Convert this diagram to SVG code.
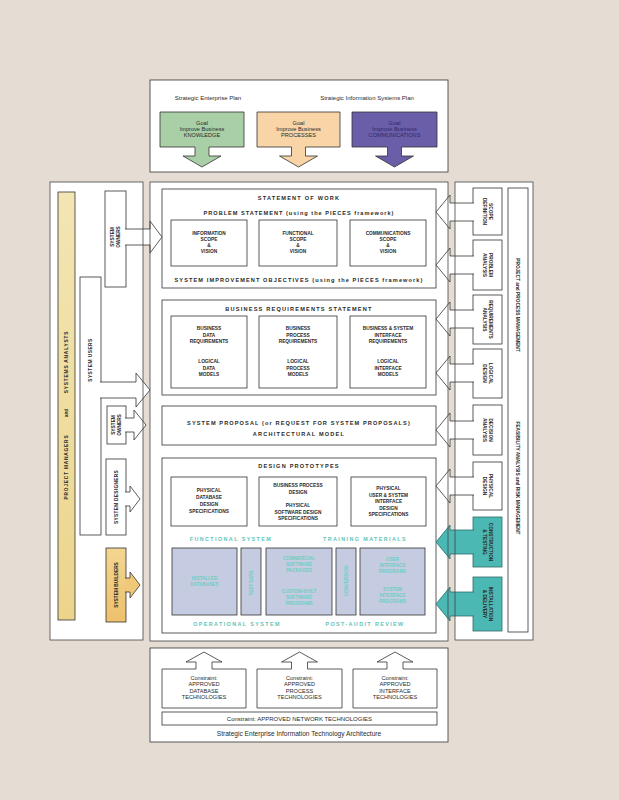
<svg xmlns="http://www.w3.org/2000/svg" width="619" height="800" viewBox="0 0 619 800">
<style>
text{font-family:"Liberation Sans",Arial,Helvetica,sans-serif;fill:#2a2a2a;text-anchor:middle}
.box{fill:#fff;stroke:#333;stroke-width:.8}
.frame{fill:none;stroke:#444;stroke-width:.8}
.arw{fill:#fff;stroke:#333;stroke-width:.8}
.h{font-weight:bold;font-size:5.6px;letter-spacing:1.2px}
.t{font-weight:bold;font-size:4.8px}
.r{font-size:6px}
.s{font-size:5.6px}
.tl{font-weight:bold;font-size:5.4px;letter-spacing:1.4px;fill:#5ec4bb}
.bb{fill:#c5cbe0;stroke:#333;stroke-width:.8}
.bt{font-weight:bold;font-size:4.6px;fill:#6ccfc4}
.teal{fill:#4bb8b4;stroke:#2c6d6b;stroke-width:.8}
</style>
<defs>
<linearGradient id="yel" x1="0" y1="0" x2="0" y2="1">
<stop offset="0" stop-color="#f3e6b4"/><stop offset="1" stop-color="#ecd48c"/>
</linearGradient>
<linearGradient id="org" x1="0" y1="0" x2="0" y2="1">
<stop offset="0" stop-color="#f4d68f"/><stop offset="1" stop-color="#eec06c"/>
</linearGradient>
</defs>
<rect x="0" y="0" width="619" height="800" fill="#e5ddd3"/>

<!-- top planning section -->
<g id="strategic-plans">
<rect class="box" x="150" y="80" width="298" height="92"/>
<text class="r" x="208" y="100">Strategic Enterprise Plan</text>
<text class="r" x="367" y="100">Strategic Information Systems Plan</text>
</g>
<g id="goal-knowledge">
<polygon points="160,112 244,112 244,147 209,147 209,156 221,156 202,167 183,156 195,156 195,147 160,147" fill="#a9cfa6" stroke="#333" stroke-width=".8"/>
<text class="s" x="202" y="124.5">Goal</text>
<text class="s" x="202" y="130.5">Improve Business</text>
<text class="s" x="202" y="137">KNOWLEDGE</text>
</g>
<g id="goal-processes">
<polygon points="257,112 340,112 340,147 305.5,147 305.5,156 317.5,156 298.5,167 279.5,156 291.5,156 291.5,147 257,147" fill="#f8d4a6" stroke="#333" stroke-width=".8"/>
<text class="s" x="298.5" y="124.5">Goal</text>
<text class="s" x="298.5" y="130.5">Improve Business</text>
<text class="s" x="298.5" y="137">PROCESSES</text>
</g>
<g id="goal-communications">
<polygon points="352,112 437,112 437,147 401.5,147 401.5,156 413.5,156 394.5,167 375.5,156 387.5,156 387.5,147 352,147" fill="#6a5ea8" stroke="#333" stroke-width=".8"/>
<text class="s" x="394.5" y="124.5" style="fill:#2e2868">Goal</text>
<text class="s" x="394.5" y="130.5" style="fill:#2e2868">Improve Business</text>
<text class="s" x="394.5" y="137" style="fill:#2e2868">COMMUNICATIONS</text>
</g>

<!-- panels -->
<g id="left-panel"><rect x="50" y="182" width="93" height="458" fill="#fff"/></g>
<g id="center-panel"><rect x="150" y="182" width="298" height="459" fill="#fff"/></g>
<g id="right-panel"><rect x="455" y="182" width="78" height="458" fill="#fff"/></g>

<!-- statement of work -->
<g id="statement-of-work">
<rect class="box" x="162" y="189" width="274" height="99"/>
<text class="h" x="299" y="200">STATEMENT OF WORK</text>
<text class="h" x="299" y="215" style="letter-spacing:1px">PROBLEM STATEMENT (using the PIECES framework)</text>
<text class="h" x="299" y="282" style="letter-spacing:1.1px">SYSTEM IMPROVEMENT OBJECTIVES (using the PIECES framework)</text>
</g>
<g id="information-scope">
<rect class="box" x="171" y="220" width="76" height="46"/>
<text class="t" x="209" y="235">INFORMATION</text>
<text class="t" x="209" y="241">SCOPE</text>
<text class="t" x="209" y="247">&amp;</text>
<text class="t" x="209" y="253">VISION</text>
</g>
<g id="functional-scope">
<rect class="box" x="259" y="220" width="78" height="46"/>
<text class="t" x="298" y="235">FUNCTIONAL</text>
<text class="t" x="298" y="241">SCOPE</text>
<text class="t" x="298" y="247">&amp;</text>
<text class="t" x="298" y="253">VISION</text>
</g>
<g id="communications-scope">
<rect class="box" x="350" y="220" width="76" height="46"/>
<text class="t" x="388" y="235">COMMUNICATIONS</text>
<text class="t" x="388" y="241">SCOPE</text>
<text class="t" x="388" y="247">&amp;</text>
<text class="t" x="388" y="253">VISION</text>
</g>

<!-- business requirements -->
<g id="business-requirements">
<rect class="box" x="162" y="300" width="274" height="95"/>
<text class="h" x="299" y="311">BUSINESS REQUIREMENTS STATEMENT</text>
</g>
<g id="data-requirements">
<rect class="box" x="171" y="316" width="76" height="72"/>
<text class="t" x="209" y="330">BUSINESS</text>
<text class="t" x="209" y="336.5">DATA</text>
<text class="t" x="209" y="343">REQUIREMENTS</text>
<text class="t" x="209" y="363">LOGICAL</text>
<text class="t" x="209" y="369.5">DATA</text>
<text class="t" x="209" y="376">MODELS</text>
</g>
<g id="process-requirements">
<rect class="box" x="259" y="316" width="78" height="72"/>
<text class="t" x="298" y="330">BUSINESS</text>
<text class="t" x="298" y="336.5">PROCESS</text>
<text class="t" x="298" y="343">REQUIREMENTS</text>
<text class="t" x="298" y="363">LOGICAL</text>
<text class="t" x="298" y="369.5">PROCESS</text>
<text class="t" x="298" y="376">MODELS</text>
</g>
<g id="interface-requirements">
<rect class="box" x="350" y="316" width="76" height="72"/>
<text class="t" x="388" y="330">BUSINESS &amp; SYSTEM</text>
<text class="t" x="388" y="336.5">INTERFACE</text>
<text class="t" x="388" y="343">REQUIREMENTS</text>
<text class="t" x="388" y="363">LOGICAL</text>
<text class="t" x="388" y="369.5">INTERFACE</text>
<text class="t" x="388" y="376">MODELS</text>
</g>

<!-- system proposal -->
<g id="system-proposal">
<rect class="box" x="162" y="406" width="274" height="39"/>
<text class="h" x="299" y="425" style="letter-spacing:1.1px">SYSTEM PROPOSAL  (or  REQUEST FOR SYSTEM PROPOSALS)</text>
<text class="h" x="299" y="436">ARCHITECTURAL MODEL</text>
</g>

<!-- design prototypes -->
<g id="design-prototypes">
<rect class="box" x="162" y="458" width="274" height="175"/>
<text class="h" x="299" y="468">DESIGN PROTOTYPES</text>
<text class="tl" x="231" y="541">FUNCTIONAL SYSTEM</text>
<text class="tl" x="365" y="541">TRAINING MATERIALS</text>
<text class="tl" x="237" y="626">OPERATIONAL SYSTEM</text>
<text class="tl" x="365" y="626">POST-AUDIT REVIEW</text>
</g>
<g id="database-design">
<rect class="box" x="171" y="477" width="76" height="49"/>
<text class="t" x="209" y="492">PHYSICAL</text>
<text class="t" x="209" y="499">DATABASE</text>
<text class="t" x="209" y="506">DESIGN</text>
<text class="t" x="209" y="513">SPECIFICATIONS</text>
</g>
<g id="software-design">
<rect class="box" x="259" y="477" width="78" height="49"/>
<text class="t" x="298" y="487">BUSINESS PROCESS</text>
<text class="t" x="298" y="494">DESIGN</text>
<text class="t" x="298" y="507">PHYSICAL</text>
<text class="t" x="298" y="513.5">SOFTWARE DESIGN</text>
<text class="t" x="298" y="520">SPECIFICATIONS</text>
</g>
<g id="interface-design">
<rect class="box" x="351" y="477" width="75" height="49"/>
<text class="t" x="388.5" y="490">PHYSICAL</text>
<text class="t" x="388.5" y="496.5">USER &amp; SYSTEM</text>
<text class="t" x="388.5" y="503">INTERFACE</text>
<text class="t" x="388.5" y="509.5">DESIGN</text>
<text class="t" x="388.5" y="516">SPECIFICATIONS</text>
</g>
<g id="built-databases">
<rect class="bb" x="172" y="548" width="65" height="67"/>
<text class="bt" x="204.5" y="580">INSTALLED</text>
<text class="bt" x="204.5" y="586">DATABASES</text>
</g>
<g id="test-data">
<rect class="bb" x="241" y="548" width="20" height="67"/>
<text class="bt" transform="translate(251,583) rotate(-90)" y="1.6">TEST DATA</text>
</g>
<g id="built-programs">
<rect class="bb" x="266" y="548" width="66" height="67"/>
<text class="bt" x="299" y="560">COMMERCIAL</text>
<text class="bt" x="299" y="566">SOFTWARE</text>
<text class="bt" x="299" y="572">PACKAGES</text>
<text class="bt" x="299" y="593">CUSTOM-BUILT</text>
<text class="bt" x="299" y="599">SOFTWARE</text>
<text class="bt" x="299" y="605">PROGRAMS</text>
</g>
<g id="conversion">
<rect class="bb" x="336" y="548" width="20" height="67"/>
<text class="bt" transform="translate(346,581) rotate(-90)" y="1.6">CONVERSION</text>
</g>
<g id="built-interfaces">
<rect class="bb" x="360" y="548" width="65" height="67"/>
<text class="bt" x="392.5" y="561">USER</text>
<text class="bt" x="392.5" y="567">INTERFACE</text>
<text class="bt" x="392.5" y="573">PROGRAMS</text>
<text class="bt" x="392.5" y="591">SYSTEM</text>
<text class="bt" x="392.5" y="597">INTERFACE</text>
<text class="bt" x="392.5" y="603">PROGRAMS</text>
</g>

<!-- left stakeholders -->
<g id="managers-analysts">
<rect x="58" y="192" width="17" height="428" fill="url(#yel)" stroke="#333" stroke-width=".8"/>
<text class="t" transform="translate(66.5,362) rotate(-90)" y="1.7" style="letter-spacing:.8px">SYSTEMS ANALYSTS</text>
<text class="t" transform="translate(66.5,413) rotate(-90)" y="1.7">and</text>
<text class="t" transform="translate(66.5,467) rotate(-90)" y="1.7" style="letter-spacing:.8px">PROJECT MANAGERS</text>
</g>
<g id="system-owners-1">
<rect class="box" x="105" y="191" width="21" height="96"/>
<text class="t" transform="translate(115.5,237) rotate(-90)" y="-1.2">SYSTEM</text>
<text class="t" transform="translate(115.5,237) rotate(-90)" y="4.8">OWNERS</text>
</g>
<g id="system-users">
<rect class="box" x="80" y="277" width="21" height="258"/>
<text class="t" transform="translate(90.5,360) rotate(-90)" y="1.7" style="letter-spacing:.5px">SYSTEM USERS</text>
</g>
<g id="system-owners-2">
<rect class="box" x="107" y="406" width="19" height="38"/>
<text class="t" transform="translate(116.5,425) rotate(-90)" y="-1.2">SYSTEM</text>
<text class="t" transform="translate(116.5,425) rotate(-90)" y="4.8">OWNERS</text>
</g>
<g id="system-designers">
<rect class="box" x="106" y="459" width="20" height="76"/>
<text class="t" transform="translate(116,497) rotate(-90)" y="1.7" style="letter-spacing:.3px">SYSTEM DESIGNERS</text>
</g>
<g id="system-builders">
<rect x="106" y="548" width="20" height="74" fill="url(#org)" stroke="#333" stroke-width=".8"/>
<text class="t" transform="translate(116,585) rotate(-90)" y="1.7">SYSTEM BUILDERS</text>
</g>

<!-- right phases -->
<g id="management-bar">
<rect class="box" x="508" y="188" width="20" height="444"/>
<text class="t" transform="translate(518,305) rotate(90)" y="1.7">PROJECT and PROCESS MANAGEMENT</text>
<text class="t" transform="translate(518,478) rotate(90)" y="1.7">FEASIBILITY ANALYSIS and RISK MANAGEMENT</text>
</g>
<g id="scope-definition">
<rect class="box" x="473" y="188" width="29" height="47"/>
<text class="t" transform="translate(487.5,211.5) rotate(90)" y="-1.2">SCOPE</text>
<text class="t" transform="translate(487.5,211.5) rotate(90)" y="4.8">DEFINITION</text>
</g>
<g id="problem-analysis">
<rect class="box" x="473" y="240" width="29" height="50"/>
<text class="t" transform="translate(487.5,265) rotate(90)" y="-1.2">PROBLEM</text>
<text class="t" transform="translate(487.5,265) rotate(90)" y="4.8">ANALYSIS</text>
</g>
<g id="requirements-analysis">
<rect class="box" x="473" y="295" width="29" height="49"/>
<text class="t" transform="translate(487.5,319.5) rotate(90)" y="-1.2">REQUIREMENTS</text>
<text class="t" transform="translate(487.5,319.5) rotate(90)" y="4.8">ANALYSIS</text>
</g>
<g id="logical-design">
<rect class="box" x="473" y="349" width="29" height="49"/>
<text class="t" transform="translate(487.5,373.5) rotate(90)" y="-1.2">LOGICAL</text>
<text class="t" transform="translate(487.5,373.5) rotate(90)" y="4.8">DESIGN</text>
</g>
<g id="decision-analysis">
<rect class="box" x="473" y="405" width="29" height="50"/>
<text class="t" transform="translate(487.5,430) rotate(90)" y="-1.2">DECISION</text>
<text class="t" transform="translate(487.5,430) rotate(90)" y="4.8">ANALYSIS</text>
</g>
<g id="physical-design">
<rect class="box" x="473" y="462" width="29" height="48"/>
<text class="t" transform="translate(487.5,486) rotate(90)" y="-1.2">PHYSICAL</text>
<text class="t" transform="translate(487.5,486) rotate(90)" y="4.8">DESIGN</text>
</g>
<g id="construction-testing">
<rect class="teal" x="473" y="517" width="29" height="50"/>
<text class="t" transform="translate(487.5,542) rotate(90)" y="-1.2">CONSTRUCTION</text>
<text class="t" transform="translate(487.5,542) rotate(90)" y="4.8">&amp; TESTING</text>
</g>
<g id="installation-delivery">
<rect class="teal" x="473" y="577" width="29" height="54"/>
<text class="t" transform="translate(487.5,604) rotate(90)" y="-1.2">INSTALLATION</text>
<text class="t" transform="translate(487.5,604) rotate(90)" y="4.8">&amp; DELIVERY</text>
</g>

<!-- bottom architecture -->
<g id="architecture">
<rect class="box" x="150" y="648" width="298" height="94"/>
<text class="r" x="299" y="735.5" style="font-size:6.6px">Strategic Enterprise Information Technology Architecture</text>
</g>
<g id="database-technologies">
<polygon class="box" points="162,708 162,669 196,669 196,662 186,662 204,652 222,662 212,662 212,669 246,669 246,708"/>
<text class="s" x="204" y="680">Constraint:</text>
<text class="s" x="204" y="686.2">APPROVED</text>
<text class="s" x="204" y="692.6">DATABASE</text>
<text class="s" x="204" y="699">TECHNOLOGIES</text>
</g>
<g id="process-technologies">
<polygon class="box" points="257,708 257,669 291.5,669 291.5,662 281.5,662 299.5,652 317.5,662 307.5,662 307.5,669 342,669 342,708"/>
<text class="s" x="299.5" y="680">Constraint:</text>
<text class="s" x="299.5" y="686.2">APPROVED</text>
<text class="s" x="299.5" y="692.6">PROCESS</text>
<text class="s" x="299.5" y="699">TECHNOLOGIES</text>
</g>
<g id="interface-technologies">
<polygon class="box" points="353,708 353,669 387,669 387,662 377,662 395,652 413,662 403,662 403,669 437,669 437,708"/>
<text class="s" x="395" y="680">Constraint:</text>
<text class="s" x="395" y="686.2">APPROVED</text>
<text class="s" x="395" y="692.6">INTERFACE</text>
<text class="s" x="395" y="699">TECHNOLOGIES</text>
</g>
<g id="network-technologies">
<rect class="box" x="162" y="712" width="275" height="13"/>
<text class="s" x="299.5" y="720.5" style="font-size:6px">Constraint: APPROVED NETWORK TECHNOLOGIES</text>
</g>

<!-- connectors: block arrows -->
<g id="connectors">
<path class="arw" d="M125,229 H150 V221 L162,237 L150,253 V245 H125"/>
<path class="arw" d="M100,382 H136 V373 L150,390 L136,407 V398 H100"/>
<path class="arw" d="M125,418 H134 V410 L146,425 L134,440 V432 H125"/>
<path class="arw" d="M125,492 H130 V486 L140,499 L130,512 V506 H125"/>
<path class="arw" d="M125,578 H130 V572 L140,585 L130,598 V592 H125" style="fill:#f0c877"/>
<path class="arw" d="M474,203 H450 V195 L436,212 L450,229 V221 H474"/>
<path class="arw" d="M474,256 H450 V248 L436,265 L450,282 V274 H474"/>
<path class="arw" d="M474,310 H450 V302 L436,319 L450,336 V328 H474"/>
<path class="arw" d="M474,364 H450 V356 L436,373 L450,390 V382 H474"/>
<path class="arw" d="M474,421 H450 V413 L436,430 L450,447 V439 H474"/>
<path class="arw" d="M474,477 H450 V469 L436,486 L450,503 V495 H474"/>
<path class="teal" d="M474,530 H450 V525 L436,542 L450,559 V554 H474"/>
<path class="teal" d="M474,592 H450 V587 L436,604 L450,621 V616 H474"/>
</g>

<!-- panel frames drawn over arrow stems -->
<g id="panel-frames">
<rect class="frame" x="50" y="182" width="93" height="458"/>
<rect class="frame" x="150" y="182" width="298" height="459"/>
<rect class="frame" x="455" y="182" width="78" height="458"/>
</g>
</svg>
